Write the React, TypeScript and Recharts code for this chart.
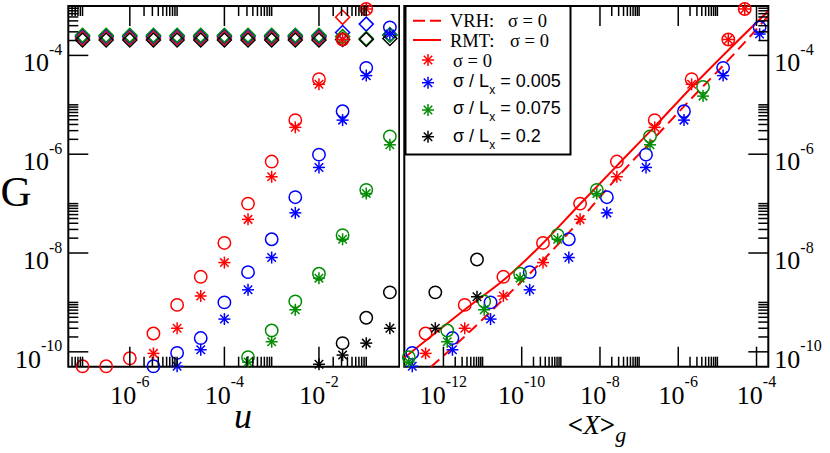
import React from 'react';
import { ScatterChart, Scatter, XAxis, YAxis, ReferenceArea } from 'recharts';

const RED = '#ff0000';
const BLUE = '#0000ff';
const GREEN = '#008c00';
const BLACK = '#000000';
const SERIF = '"Liberation Serif", "Times New Roman", serif';
const SANS = '"Liberation Sans", Arial, sans-serif';

// u values (left panel x)
const uValues = [1e-7, 3.16e-7, 1e-6, 3.16e-6, 1e-5, 3.16e-5, 1e-4, 3.16e-4, 1e-3, 3.16e-3, 1e-2, 3.16e-2, 0.1, 0.316, 1];

// G, open circles / asterisks, one entry per u
const gRedCircle = [5.1e-11, 5.1e-11, 7.4e-11, 2.35e-10, 8.9e-10, 3.3e-9, 1.6e-8, 1e-7, 7.1e-7, 4.9e-6, 3.3e-5, 2.1e-4, 8.7e-4, null, null];
const gRedStar = [null, null, null, 9.3e-11, 3e-10, 1.35e-9, 6.4e-9, 4.8e-8, 3.5e-7, 3.5e-6, 2.6e-5, 2.1e-4, 8.7e-4, null, null];
const gBlueCircle = [null, null, null, 5.1e-11, 9.5e-11, 1.9e-10, 1e-9, 4.1e-9, 1.9e-8, 1.35e-7, 9.8e-7, 7.4e-6, 5.6e-5, 3.7e-4, null];
const gBlueStar = [null, null, null, null, 5.1e-11, 1.1e-10, 4.6e-10, 1.8e-9, 8.1e-9, 6.5e-8, 5.4e-7, 4.9e-6, 3.9e-5, 2.7e-4, null];
const gGreenCircle = [null, null, null, null, null, null, null, 7.8e-11, 2.7e-10, 1.05e-9, 3.8e-9, 2.3e-8, 1.9e-7, 2.3e-6, 2.3e-5];
const gGreenStar = [null, null, null, null, null, null, null, 6.2e-11, 1.6e-10, 7.1e-10, 3.1e-9, 1.9e-8, 1.6e-7, 1.55e-6, 1.5e-5];
const gBlackCircle = [null, null, null, null, null, null, null, null, null, null, null, 1.5e-10, 4.9e-10, 1.6e-9, 7.4e-9];
const gBlackStar = [null, null, null, null, null, null, null, null, null, null, 5.6e-11, 8.6e-11, 1.5e-10, 3e-10, 1.3e-9];

// diamonds along the top of the left panel
const gRedDiamond = [2.25e-4, 2.25e-4, 2.25e-4, 2.25e-4, 2.25e-4, 2.25e-4, 2.25e-4, 2.25e-4, 2.25e-4, 2.25e-4, 2.25e-4, 5.9e-4, null, null, null];
const gBlueDiamond = [2.45e-4, 2.45e-4, 2.45e-4, 2.45e-4, 2.45e-4, 2.45e-4, 2.45e-4, 2.45e-4, 2.45e-4, 2.45e-4, 2.45e-4, 2.9e-4, 4.3e-4, 2.6e-4, null];
const gGreenDiamond = [2.55e-4, 2.55e-4, 2.55e-4, 2.55e-4, 2.55e-4, 2.55e-4, 2.55e-4, 2.55e-4, 2.55e-4, 2.55e-4, 2.55e-4, 2.4e-4, 2.2e-4, 2.6e-4, null];
const gBlackDiamond = [2.05e-4, 2.05e-4, 2.05e-4, 2.05e-4, 2.05e-4, 2.05e-4, 2.05e-4, 2.05e-4, 2.05e-4, 2.05e-4, 2.05e-4, 2.1e-4, 2.1e-4, 2.2e-4, null];

// <X>_g (right panel x), one entry per u
const xgRed = [null, null, null, 3.5e-13, 3.5e-12, 3.4e-11, 3.5e-10, 3.1e-9, 2.7e-8, 2.5e-7, 2.2e-6, 1.9e-5, 5e-5, null, null];
const xgBlue = [null, null, null, null, 1.6e-13, 1.7e-12, 1.6e-11, 1.6e-10, 1.6e-9, 1.5e-8, 1.5e-7, 1.4e-6, 1.4e-5, 1.2e-4, null];
const xgGreen = [null, null, null, null, null, null, null, 1.3e-13, 1.25e-12, 1.1e-11, 9.1e-11, 8.3e-10, 8.3e-9, 1.9e-7, 4.3e-6];
const xgBlack = [null, null, null, null, null, null, null, null, null, null, null, null, null, 6.2e-13, 7.2e-12];

// theory curves, sigma = 0
const vrhX = [4.84e-13, 2.52e-12, 9.98e-12, 4.81e-11, 3.12e-10, 1.83e-9, 2.69e-8, 2.49e-7, 2.16e-6, 1.87e-5, 1.98e-4];
const vrhG = [5.0e-11, 1.61e-10, 4.51e-10, 1.52e-9, 6.5e-9, 2.9e-8, 3.31e-7, 2.15e-6, 1.34e-5, 7.91e-5, 6.21e-4];
const rmtX = [1.0e-13, 3.54e-13, 3.53e-12, 3.38e-11, 2.32e-10, 3.11e-9, 2.69e-8, 2.49e-7, 2.16e-6, 1.87e-5, 1.98e-4];
const rmtG = [7.6e-11, 1.69e-10, 7.21e-10, 2.8e-9, 1.14e-8, 9.82e-8, 5.81e-7, 3.61e-6, 2.24e-5, 1.26e-4, 7.83e-4];

// axes
const U_DOMAIN: [number, number] = [5e-8, 0.5];
const XG_DOMAIN: [number, number] = [1e-13, 2e-4];
const G_DOMAIN: [number, number] = [5e-11, 1e-3];
const uMajor = [1e-6, 1e-4, 1e-2];
const xgMajor = [1e-12, 1e-10, 1e-8, 1e-6, 1e-4];
const gMajor = [1e-10, 1e-8, 1e-6, 1e-4];

const PLOT_TOP = 6;
const MAJOR_LEN = 20;
const MINOR_LEN = 10;

type Pt = { x: number; y: number };

function toPoints(xs: (number | null)[], ys: (number | null)[], xd: [number, number], yd: [number, number]): Pt[] {
  const out: Pt[] = [];
  xs.forEach((x, i) => {
    const y = ys[i];
    if (x == null || y == null) return;
    if (x < xd[0] || x > xd[1] || y < yd[0] || y > yd[1]) return;
    out.push({ x, y });
  });
  return out;
}

// majors plus 2..10 x each major decade
function logTicks(decades: number[], domain: [number, number]) {
  const out: number[] = [];
  decades.forEach((d) => {
    if (d > domain[0] && d < domain[1]) out.push(d);
    [2, 3, 4, 5, 6, 7, 8, 9, 10].forEach((k) => {
      const v = +(d * k).toPrecision(6);
      if (v > domain[0] * 1.0001 && v < domain[1] * 0.9999) out.push(v);
    });
  });
  return out;
}

const isMajor = (v: number, majors: number[]) => majors.some((m) => Math.abs(v / m - 1) < 1e-6);
const expOf = (v: number) => String(Math.round(Math.log10(v)));

const makeXTick = (majors: number[]) => (p: any) => {
  const v = p.payload.value;
  const major = isMajor(v, majors);
  const len = major ? MAJOR_LEN : MINOR_LEN;
  return (
    <g>
      <line x1={p.x} y1={p.y} x2={p.x} y2={p.y - len} stroke="#000" strokeWidth={1.5} />
      <line x1={p.x} y1={PLOT_TOP} x2={p.x} y2={PLOT_TOP + len} stroke="#000" strokeWidth={1.5} />
      {major && (
        <text x={p.x} y={p.y + 37.5} textAnchor="middle" fontFamily={SERIF} fontSize={26} fill="#000">
          10<tspan dy={-17.5} fontSize={16}>{expOf(v)}</tspan>
        </text>
      )}
    </g>
  );
};

const makeYTick = (side: 'left' | 'right') => (p: any) => {
  const v = p.payload.value;
  const major = isMajor(v, gMajor);
  const len = major ? MAJOR_LEN : MINOR_LEN;
  const dir = side === 'left' ? 1 : -1;
  return (
    <g>
      <line x1={p.x} y1={p.y} x2={p.x + dir * len} y2={p.y} stroke="#000" strokeWidth={1.5} />
      {major && (
        <text
          x={side === 'left' ? p.x - 6 : p.x + 6}
          y={p.y + 16}
          textAnchor={side === 'left' ? 'end' : 'start'}
          fontFamily={SERIF}
          fontSize={26}
          fill="#000"
        >
          10<tspan dy={-16.5} fontSize={16}>{expOf(v)}</tspan>
        </text>
      )}
    </g>
  );
};

function Star({ cx, cy, color, r = 6 }: { cx: number; cy: number; color: string; r?: number }) {
  const d = r * 0.707;
  return (
    <g stroke={color} strokeWidth={1.5}>
      <line x1={cx - r} y1={cy} x2={cx + r} y2={cy} />
      <line x1={cx} y1={cy - r} x2={cx} y2={cy + r} />
      <line x1={cx - d} y1={cy - d} x2={cx + d} y2={cy + d} />
      <line x1={cx - d} y1={cy + d} x2={cx + d} y2={cy - d} />
    </g>
  );
}

const circleShape = (color: string) => (p: any) => (
  <circle cx={p.cx} cy={p.cy} r={6.2} fill="none" stroke={color} strokeWidth={1.5} />
);
const starShape = (color: string) => (p: any) => <Star cx={p.cx} cy={p.cy} color={color} />;
const diamondShape = (color: string) => (p: any) => (
  <polygon
    points={`${p.cx},${p.cy - 7} ${p.cx + 7},${p.cy} ${p.cx},${p.cy + 7} ${p.cx - 7},${p.cy}`}
    fill="none"
    stroke={color}
    strokeWidth={1.5}
  />
);
const noShape = () => <g />;

const sets = [
  { color: RED, circle: gRedCircle, star: gRedStar, diamond: gRedDiamond, xg: xgRed },
  { color: BLUE, circle: gBlueCircle, star: gBlueStar, diamond: gBlueDiamond, xg: xgBlue },
  { color: GREEN, circle: gGreenCircle, star: gGreenStar, diamond: gGreenDiamond, xg: xgGreen },
  { color: BLACK, circle: gBlackCircle, star: gBlackStar, diamond: gBlackDiamond, xg: xgBlack },
];

const uTicks = logTicks([1e-8, 1e-6, 1e-4, 1e-2], U_DOMAIN);
const xgTicks = logTicks(xgMajor, XG_DOMAIN);
const gTicks = logTicks(gMajor, G_DOMAIN);

function LeftPanel() {
  return (
    <ScatterChart width={400} height={453} margin={{ top: 6, right: 0.7, bottom: 56.3, left: 8.3 }}>
      <XAxis
        type="number"
        dataKey="x"
        scale="log"
        domain={U_DOMAIN}
        ticks={uTicks}
        interval={0}
        height={30}
        axisLine={false}
        tickLine={false}
        tickSize={0}
        tickMargin={0}
        tick={makeXTick(uMajor)}
      />
      <YAxis
        type="number"
        dataKey="y"
        scale="log"
        domain={G_DOMAIN}
        ticks={gTicks}
        interval={0}
        width={60}
        axisLine={false}
        tickLine={false}
        tickSize={0}
        tickMargin={0}
        tick={makeYTick('left')}
      />
      <ReferenceArea x1={U_DOMAIN[0]} x2={U_DOMAIN[1]} y1={G_DOMAIN[0]} y2={G_DOMAIN[1]} fill="none" stroke="#000" strokeWidth={2} fillOpacity={0} />
      {sets.map((s, i) => (
        <Scatter key={'d' + i} data={toPoints(uValues, s.diamond, U_DOMAIN, G_DOMAIN)} shape={diamondShape(s.color)} isAnimationActive={false} />
      ))}
      {sets.map((s, i) => (
        <Scatter key={'c' + i} data={toPoints(uValues, s.circle, U_DOMAIN, G_DOMAIN)} shape={circleShape(s.color)} isAnimationActive={false} />
      ))}
      {sets.map((s, i) => (
        <Scatter key={'s' + i} data={toPoints(uValues, s.star, U_DOMAIN, G_DOMAIN)} shape={starShape(s.color)} isAnimationActive={false} />
      ))}
    </ScatterChart>
  );
}

function RightPanel() {
  return (
    <ScatterChart width={430} height={453} margin={{ top: 6, right: 1.7, bottom: 56.3, left: 4.3 }}>
      <XAxis
        type="number"
        dataKey="x"
        scale="log"
        domain={XG_DOMAIN}
        ticks={xgTicks}
        interval={0}
        height={30}
        axisLine={false}
        tickLine={false}
        tickSize={0}
        tickMargin={0}
        tick={makeXTick(xgMajor)}
      />
      <YAxis
        type="number"
        dataKey="y"
        orientation="right"
        scale="log"
        domain={G_DOMAIN}
        ticks={gTicks}
        interval={0}
        width={60}
        axisLine={false}
        tickLine={false}
        tickSize={0}
        tickMargin={0}
        tick={makeYTick('right')}
      />
      <ReferenceArea x1={XG_DOMAIN[0]} x2={XG_DOMAIN[1]} y1={G_DOMAIN[0]} y2={G_DOMAIN[1]} fill="none" stroke="#000" strokeWidth={2} fillOpacity={0} />
      <Scatter
        data={toPoints(vrhX, vrhG, XG_DOMAIN, G_DOMAIN)}
        line={{ stroke: RED, strokeWidth: 2, strokeDasharray: '11 6' }}
        lineType="joint"
        lineJointType="monotoneX"
        shape={noShape}
        isAnimationActive={false}
      />
      <Scatter
        data={toPoints(rmtX, rmtG, XG_DOMAIN, G_DOMAIN)}
        line={{ stroke: RED, strokeWidth: 2 }}
        lineType="joint"
        lineJointType="monotoneX"
        shape={noShape}
        isAnimationActive={false}
      />
      {sets.map((s, i) => (
        <Scatter key={'c' + i} data={toPoints(s.xg, s.circle, XG_DOMAIN, G_DOMAIN)} shape={circleShape(s.color)} isAnimationActive={false} />
      ))}
      {sets.map((s, i) => (
        <Scatter key={'s' + i} data={toPoints(s.xg, s.star, XG_DOMAIN, G_DOMAIN)} shape={starShape(s.color)} isAnimationActive={false} />
      ))}
    </ScatterChart>
  );
}

function Overlay() {
  const rows = [
    { color: BLUE, y: 82.7, base: 87.3, value: '0.005' },
    { color: GREEN, y: 110, base: 114, value: '0.075' },
    { color: BLACK, y: 136.7, base: 141.7, value: '0.2' },
  ];
  return (
    <svg width={830} height={453} style={{ position: 'absolute', left: 0, top: 0, pointerEvents: 'none' }}>
      <text x={16} y={206} textAnchor="middle" fontFamily={SERIF} fontSize={43} fill="#000">G</text>
      <text x={243} y={428} textAnchor="middle" fontFamily={SERIF} fontStyle="italic" fontSize={36} fill="#000">u</text>
      <text x={597} y={434} textAnchor="middle" fontFamily={SERIF} fontSize={27} fill="#000">
        <tspan fontWeight="bold">{'<'}</tspan>
        <tspan fontStyle="italic">X</tspan>
        <tspan fontWeight="bold">{'>'}</tspan>
        <tspan dy={8} fontStyle="italic" fontSize={22}>g</tspan>
      </text>

      <rect x={405.5} y={6} width={165} height={148.5} fill="#fff" stroke="#000" strokeWidth={2} />
      <line x1={413} y1={20.7} x2={441} y2={20.7} stroke={RED} strokeWidth={2} strokeDasharray="12 5" />
      <text y={27.3} fontFamily={SERIF} fontSize={18.5} fill="#000">
        <tspan x={450}>VRH:</tspan>
        <tspan x={508}>σ = 0</tspan>
      </text>
      <line x1={413} y1={40} x2={441} y2={40} stroke={RED} strokeWidth={2} />
      <text y={46.7} fontFamily={SERIF} fontSize={18.5} fill="#000">
        <tspan x={450}>RMT:</tspan>
        <tspan x={510}>σ = 0</tspan>
      </text>
      <Star cx={428} cy={60} color={RED} />
      <text x={453} y={66.7} fontFamily={SERIF} fontSize={18.5} fill="#000">σ = 0</text>
      {rows.map((r) => (
        <g key={r.value}>
          <Star cx={428} cy={r.y} color={r.color} />
          <text x={453} y={r.base} fontFamily={SANS} fontSize={18} fill="#000">
            σ / L<tspan dy={7} fontSize={12}>x</tspan>
            <tspan dy={-7}> = {r.value}</tspan>
          </text>
        </g>
      ))}
    </svg>
  );
}

export default function App() {
  return (
    <div style={{ position: 'absolute', left: 0, top: 0, width: 830, height: 453, background: '#fff', overflow: 'hidden' }}>
      <div style={{ position: 'absolute', left: 0, top: 0 }}>
        <LeftPanel />
      </div>
      <div style={{ position: 'absolute', left: 400, top: 0 }}>
        <RightPanel />
      </div>
      <Overlay />
    </div>
  );
}
